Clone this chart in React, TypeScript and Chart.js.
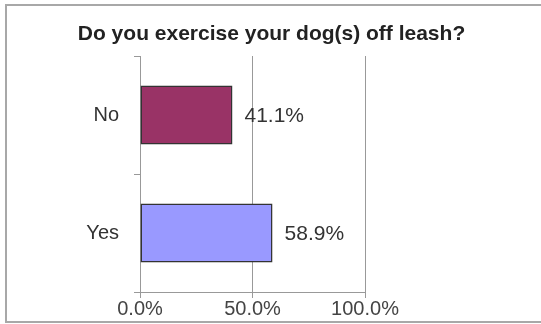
import React, { useEffect, useRef } from 'react';
import { Chart, registerables } from 'chart.js';

Chart.register(...registerables);

const title = 'Do you exercise your dog(s) off leash?';
const categories = ['No', 'Yes'];
const values = [41.1, 58.9];
const barColors = ['#993366', '#9999FF'];
const axisMin = 0;
const axisMax = 100;
const axisStep = 50;

const FONT = '"Liberation Sans", Arial, Helvetica, sans-serif';

const valueLabels = {
  id: 'valueLabels',
  afterDatasetsDraw(chart: any) {
    const ctx = chart.ctx;
    const meta = chart.getDatasetMeta(0);
    ctx.save();
    ctx.font = `21px ${FONT}`;
    ctx.fillStyle = '#333333';
    ctx.textAlign = 'left';
    ctx.textBaseline = 'middle';
    meta.data.forEach((bar: any, i: number) => {
      const v = chart.data.datasets[0].data[i] as number;
      ctx.fillText(v.toFixed(1) + '%', bar.x + 12, bar.y + 1);
    });
    ctx.restore();
  },
};

const titlePlugin = {
  id: 'centerTitle',
  afterDraw(chart: any) {
    const ctx = chart.ctx;
    ctx.save();
    ctx.font = `bold 21px ${FONT}`;
    ctx.fillStyle = '#222222';
    ctx.textAlign = 'center';
    ctx.textBaseline = 'middle';
    ctx.fillText(title, chart.width / 2 + 1, 34);
    ctx.restore();
  },
};

export default function App() {
  const ref = useRef<HTMLCanvasElement | null>(null);
  useEffect(() => {
    if (!ref.current) return;
    const chart = new Chart(ref.current, {
      type: 'bar',
      data: {
        labels: categories,
        datasets: [
          {
            data: values,
            backgroundColor: barColors,
            borderColor: '#333333',
            borderWidth: 1.5,
            borderSkipped: false,
            barPercentage: 0.5,
            categoryPercentage: 1,
          },
        ],
      },
      options: {
        indexAxis: 'y',
        animation: false,
        responsive: false,
        maintainAspectRatio: false,
        layout: { padding: { left: 0, right: 176, top: 56, bottom: 0 } },
        plugins: {
          legend: { display: false },
          tooltip: { enabled: false },
          title: { display: false },
        },
        scales: {
          x: {
            min: axisMin,
            max: axisMax,
            ticks: {
              stepSize: axisStep,
              color: '#444444',
              font: { family: FONT, size: 20 },
              padding: -1,
              callback: (v: any) => Number(v).toFixed(1) + '%',
            },
            grid: {
              color: '#999999',
              lineWidth: 1,
              tickLength: 6,
              drawOnChartArea: true,
            },
            border: { color: '#999999', width: 1 },
            afterFit: (s: any) => {
              s.height = 32;
            },
          },
          y: {
            offset: true,
            ticks: {
              color: '#333333',
              font: { family: FONT, size: 20 },
              padding: 15,
            },
            grid: {
              offset: true,
              color: '#999999',
              lineWidth: 1,
              tickLength: 6,
              drawOnChartArea: false,
            },
            border: { color: '#999999', width: 1 },
            afterFit: (s: any) => {
              s.width = 140;
            },
          },
        },
      },
      plugins: [valueLabels, titlePlugin],
    });
    return () => chart.destroy();
  }, []);

  return (
    <div
      style={{
        position: 'fixed',
        left: 0,
        top: 0,
        width: 541,
        height: 324,
        background: '#ffffff',
        overflow: 'hidden',
      }}
    >
      <canvas ref={ref} width={541} height={324} style={{ position: 'absolute', left: 0, top: 0, width: 541, height: 324 }} />
      <div
        style={{
          position: 'absolute',
          left: 5,
          top: 4,
          width: 560,
          height: 319,
          boxSizing: 'border-box',
          borderTop: '2px solid #a8a8a8',
          borderLeft: '2px solid #a8a8a8',
          borderBottom: '2px solid #a8a8a8',
          pointerEvents: 'none',
        }}
      />
    </div>
  );
}
